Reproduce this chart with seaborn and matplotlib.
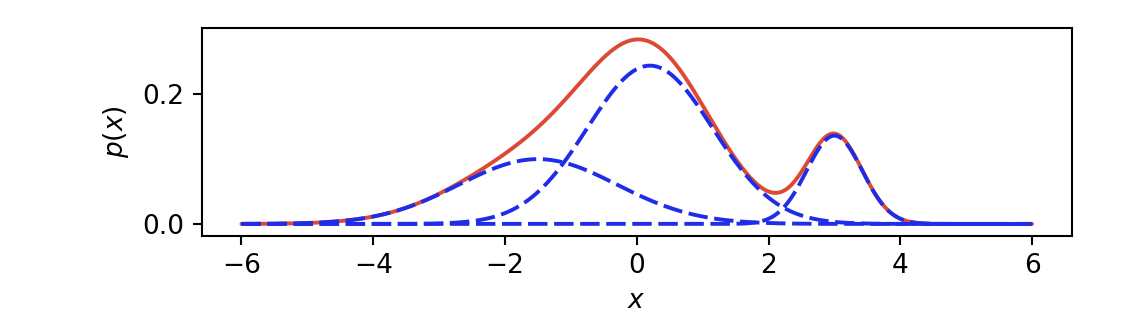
import numpy as np
import pandas as pd
import seaborn as sns
import matplotlib
matplotlib.use("Agg")
import matplotlib.pyplot as plt

# Mixture component parameters
weights = [0.3, 0.58, 0.143]
means = [-1.5, 0.2, 3.0]
sds = [1.2, 0.95, 0.42]
x_range = [-6, 6]
x_ticks = [-6, -4, -2, 0, 2, 4, 6]
y_ticks = [0.0, 0.2]

sns.set_style("ticks")
plt.rcParams['font.family'] = ['DejaVu Sans']
plt.rcParams['mathtext.fontset'] = 'dejavusans'
plt.rcParams['text.color'] = 'black'
plt.rcParams['axes.labelcolor'] = 'black'
plt.rcParams['xtick.color'] = 'black'
plt.rcParams['ytick.color'] = 'black'

x = np.linspace(x_range[0], x_range[1], 600)
comps = []
for w, m, s in zip(weights, means, sds):
    comps.append(w * np.exp(-0.5 * ((x - m) / s) ** 2) / (s * np.sqrt(2 * np.pi)))
total = np.sum(comps, axis=0)

rows = [pd.DataFrame({"x": x, "p": total, "curve": "mix"})]
for i, c in enumerate(comps):
    rows.append(pd.DataFrame({"x": x, "p": c, "curve": f"c{i}"}))
df = pd.concat(rows, ignore_index=True)

fig = plt.figure(figsize=(11.28, 3.18), dpi=100)
ax = fig.add_axes([0.179, 0.258, 0.771, 0.654])

sns.lineplot(data=df[df.curve == "mix"], x="x", y="p", color="#dc4a36",
             linewidth=2.8, ax=ax, legend=False)
for i in range(len(comps)):
    sns.lineplot(data=df[df.curve == f"c{i}"], x="x", y="p", color="#1f2de8",
                 linewidth=2.8, ax=ax, legend=False)
for line in ax.get_lines()[1:]:
    line.set_linestyle((0, (5.0, 1.7)))

ax.set_xticks(x_ticks)
ax.set_xticklabels([str(t).replace("-", "\u2212") for t in x_ticks])
ax.set_yticks(y_ticks)
ax.set_yticklabels([f"{t:.1f}" for t in y_ticks])
ax.set_xlim(-6.6, 6.6)
ax.set_ylim(-0.0185, 0.3015)
ax.set_xlabel("$x$", fontsize=19, labelpad=6)
ax.set_ylabel("$p(x)$", fontsize=19, labelpad=8)
ax.tick_params(labelsize=19, width=1.5, length=6.5, pad=6, colors="black")
for sp in ax.spines.values():
    sp.set_linewidth(1.5)
    sp.set_color("black")
    sp.set_visible(True)

fig.savefig("out.png", dpi=100)
